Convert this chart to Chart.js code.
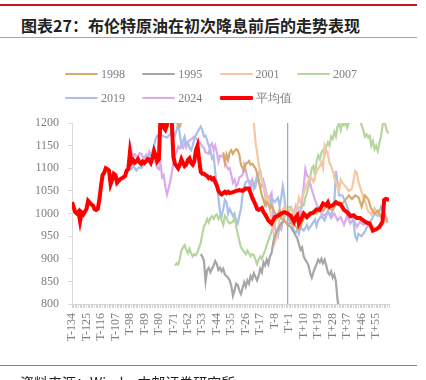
<!DOCTYPE html>
<html>
<head>
<meta charset="utf-8">
<script src="https://cdn.jsdelivr.net/npm/chart.js@4.4.1/dist/chart.umd.min.js"></script>
<style>
  body { margin: 0; width: 426px; height: 380px; overflow: hidden; background: #fff; position: relative; font-family: "Noto Sans CJK SC", sans-serif; }
  #topRule { position: absolute; left: 0; top: 4px; width: 417px; height: 2px; background: #c8161d; }
  #title { position: absolute; left: 21px; top: 13px; font-size: 16px; font-weight: bold; color: #222; white-space: nowrap; }
  #titleRule { position: absolute; left: 0; top: 37px; width: 417px; height: 1px; background: #e58a8a; }
  #legend { position: absolute; left: 65px; top: 62px; display: grid; grid-template-columns: repeat(4, 77.3px); grid-auto-rows: 24px; }
  .item { display: flex; align-items: center; font-family: "Liberation Serif", serif; font-size: 12px; color: #7f7f7f; }
  .swatch { width: 33px; margin-right: 3px; border-radius: 1px; }
  #chartBox { position: absolute; left: 0; top: 0; }
  #footRule { position: absolute; left: 0; top: 365px; width: 417px; height: 1px; background: #e06060; }
  #source { position: absolute; left: 20px; top: 372px; font-size: 14px; color: #222; white-space: nowrap; }
</style>
</head>
<body>
<div id="topRule"></div>
<div id="title">图表27：布伦特原油在初次降息前后的走势表现</div>
<div id="titleRule"></div>
<div id="chartBox"><canvas id="brentChart" width="426" height="380"></canvas></div>
<div id="legend"></div>
<div id="footRule"></div>
<div id="source">资料来源：Wind，中邮证券研究所</div>

<script>
// ===== DATA (x = trading day relative to first cut, y = index level) =====
const xMin = -134, xMax = 63, cutDay = 0;
const yMin = 800, yMax = 1200, yStep = 50;
const tickDays = [-134, -125, -116, -107, -98, -89, -80, -71, -62, -53, -44, -35, -26, -17, -8, 1, 10, 19, 28, 37, 46, 55];
const tickLabels = ['T-134', 'T-125', 'T-116', 'T-107', 'T-98', 'T-89', 'T-80', 'T-71', 'T-62', 'T-53', 'T-44', 'T-35', 'T-26', 'T-17', 'T-8', 'T+1', 'T+10', 'T+19', 'T+28', 'T+37', 'T+46', 'T+55'];

const seriesNames = ['1998', '1995', '2001', '2007', '2019', '2024', '平均值'];

const s1998 = [[-70,1215],[-68,1195],[-67,1192],[-66,1205],[-65,1220],[-64,null],
  [-40,1135],[-39,1112],[-38,1130],[-37,1118],[-36,1135],[-35,1140],[-34,1132],[-33,1138],[-32,1142],[-31,1140],
  [-30,1130],[-29,1108],[-28,1100],[-27,1095],[-26,1110],[-25,1112],[-24,1116],[-23,1108],[-22,1110],[-21,1105],
  [-20,1100],[-19,1090],[-18,1075],[-17,1055],[-16,1040],[-15,1030],[-14,1018],[-13,1025],[-12,1022],[-11,1012],
  [-10,1018],[-9,1010],[-8,1002],[-7,997],[-6,998],[-5,1008],[-4,990],[-2,985],[0,975],[2,980],[4,975],[6,968],
  [7,965],[8,970],[10,990],[12,998],[14,995],[16,1005],[18,1000],[20,1010],[22,1005],[24,1015],[26,1010],[28,1008],
  [30,1020],[32,1025],[34,1022],[36,1030],[38,1040],[40,1032],[42,1040],[44,1036],[46,1015],[48,1040],[50,1032],
  [52,1010],[54,1000],[56,1006],[58,993],[60,1000],[62,980]];

const s1995 = [[-54,910],[-53,905],[-52,895],[-51,850],[-50,875],[-49,880],[-48,870],[-47,878],[-46,885],[-45,895],
  [-44,888],[-43,875],[-42,880],[-41,872],[-40,878],[-39,865],[-38,862],[-37,858],[-36,852],[-35,840],[-34,818],
  [-33,830],[-32,845],[-31,842],[-30,830],[-29,822],[-28,835],[-27,848],[-26,838],[-25,852],[-24,845],[-23,862],
  [-22,855],[-21,868],[-20,860],[-19,852],[-18,862],[-17,878],[-16,870],[-15,892],[-14,885],[-13,898],[-12,888],
  [-11,905],[-10,912],[-9,935],[-8,950],[-7,958],[-6,965],[-4,978],[-2,985],[0,975],[2,970],[4,958],[6,945],
  [8,920],[9,925],[10,905],[11,898],[12,892],[13,885],[14,868],[15,858],[16,870],[17,880],[18,888],[19,898],
  [20,892],[21,900],[22,890],[23,898],[24,885],[25,870],[26,865],[27,872],[28,858],[29,865],[30,850],[31,810],[32,785]];

const s2001 = [[-22,1230],[-21,1200],[-20,1160],[-19,1135],[-18,1110],[-17,1085],[-16,1075],[-15,1060],[-14,1050],
  [-13,1030],[-12,1035],[-11,1010],[-10,990],[-9,965],[-8,935],[-7,945],[-6,965],[-5,985],[-4,1000],[-3,1010],
  [-2,1015],[-1,1005],[0,1002],[2,1010],[4,1000],[6,1015],[7,1035],[8,1025],[10,1045],[12,1065],[14,1082],
  [16,1070],[18,1093],[20,1105],[21,1113],[22,1100],[23,1150],[24,1140],[25,1132],[26,1112],[27,1105],[28,1095],
  [29,1080],[30,1070],[31,1058],[32,1050],[33,1075],[34,1068],[36,1060],[38,1050],[40,1055],[42,1094],[43,1090],
  [44,1070],[46,1048],[48,1028],[50,1005],[52,998],[54,1012],[56,1000],[58,992],[60,1002],[62,980]];

const s2007 = [[-70,885],[-69,890],[-68,887],[-67,900],[-66,918],[-65,925],[-64,930],[-63,920],[-62,912],[-61,922],
  [-60,912],[-59,905],[-58,910],[-57,908],[-56,915],[-55,925],[-54,935],[-53,955],[-52,972],[-51,978],[-50,988],
  [-49,980],[-48,990],[-47,994],[-46,988],[-45,995],[-44,998],[-43,988],[-42,995],[-41,985],[-40,975],[-39,995],
  [-38,990],[-37,982],[-36,978],[-34,982],[-33,992],[-32,972],[-31,955],[-30,940],[-29,925],[-28,920],[-27,915],
  [-26,910],[-25,918],[-24,912],[-23,905],[-22,910],[-21,908],[-20,898],[-19,888],[-18,898],[-17,905],[-16,900],
  [-15,910],[-14,918],[-13,930],[-12,940],[-11,950],[-10,960],[-9,972],[-8,980],[-6,990],[-4,998],[-2,992],
  [0,1012],[2,1015],[4,1000],[6,1012],[8,1014],[10,1018],[11,1035],[12,1045],[13,1060],[14,1080],[15,1100],
  [16,1105],[17,1085],[18,1115],[19,1128],[20,1120],[21,1135],[22,1140],[23,1130],[24,1148],[25,1157],[26,1150],
  [27,1170],[28,1165],[29,1180],[30,1170],[31,1192],[32,1200],[33,1185],[34,1200],[35,1195],[36,1205],[37,1190],
  [38,1200],[39,1215],[41,1230],[43,1220],[45,1205],[47,1185],[48,1170],[49,1175],[50,1168],[51,1172],[52,1150],
  [53,1160],[54,1142],[55,1150],[56,1138],[57,1155],[58,1170],[59,1195],[60,1205],[61,1192],[62,1180],[63,1178]];

const s2019 = [[-98,1100],[-97,1098],[-96,1105],[-95,1100],[-94,1095],[-93,1100],[-92,1103],[-91,1100],[-90,1105],
  [-89,1108],[-88,1120],[-86,1125],[-84,1135],[-83,1150],[-82,1165],[-81,1172],[-79,1175],[-77,1170],[-75,1168],
  [-73,1175],[-72,1185],[-70,1172],[-68,1198],[-67,1175],[-66,1150],[-65,1160],[-64,1170],[-63,1152],[-62,1158],
  [-61,1145],[-60,1140],[-59,1150],[-58,1165],[-56,1180],[-54,1192],[-53,1185],[-52,1170],[-51,1172],[-49,1150],
  [-48,1140],[-47,1122],[-46,1128],[-45,1092],[-44,1068],[-43,1035],[-42,1002],[-41,995],[-40,1010],[-39,1030],
  [-38,1025],[-37,1000],[-36,1010],[-34,995],[-33,1000],[-32,985],[-31,978],[-30,995],[-29,1010],[-28,1040],
  [-27,1060],[-26,1070],[-24,1072],[-22,1070],[-21,1055],[-20,1065],[-19,1085],[-17,1094],[-16,1072],[-15,1065],
  [-14,1040],[-13,1020],[-12,1030],[-11,1018],[-10,1035],[-8,1025],[-6,1035],[-5,1015],[-4,1035],[-3,1060],
  [-2,1035],[-1,1000],[1,990],[2,980],[3,975],[4,960],[5,958],[6,965],[7,955],[8,970],[10,962],[12,975],[13,965],
  [15,975],[17,987],[18,972],[19,985],[21,995],[23,985],[25,1005],[27,995],[29,1020],[30,1094],[31,1070],[32,1040],
  [34,1040],[36,1025],[38,1005],[40,995],[41,980],[42,950],[43,942],[44,955],[46,950],[48,960],[50,975],[52,985],
  [54,1000],[56,995],[58,1015],[60,1000],[62,985]];

const s2024 = [[-98,1160],[-97,1135],[-96,1128],[-95,1131],[-94,1126],[-93,1128],[-92,1134],[-91,1132],[-90,1125],
  [-89,1122],[-88,1130],[-87,1125],[-86,1136],[-85,1125],[-84,1136],[-83,1125],[-82,1110],[-81,1101],[-80,1098],
  [-79,1112],[-78,1080],[-77,1085],[-76,1060],[-75,1042],[-74,1055],[-73,1070],[-72,1090],[-71,1112],[-70,1128],
  [-69,1135],[-68,1148],[-67,1144],[-66,1150],[-65,1145],[-64,1155],[-63,1146],[-62,1158],[-60,1164],[-58,1170],
  [-56,1162],[-54,1155],[-53,1148],[-52,1145],[-51,1135],[-49,1132],[-48,1150],[-47,1155],[-46,1140],[-45,1150],
  [-44,1135],[-43,1115],[-42,1128],[-40,1125],[-38,1105],[-37,1098],[-36,1100],[-35,1085],[-34,1068],[-33,1075],
  [-32,1060],[-31,1065],[-30,1080],[-28,1085],[-27,1108],[-26,1095],[-25,1080],[-24,1068],[-23,1058],[-22,1075],
  [-21,1068],[-20,1060],[-19,1078],[-18,1068],[-16,1060],[-15,1072],[-14,1058],[-13,1042],[-12,1032],[-11,1038],
  [-10,1045],[-9,995],[-8,972],[-7,957],[-6,950],[-5,972],[-4,965],[-3,980],[-2,995],[0,998],[1,985],[2,995],
  [4,1002],[5,1015],[6,995],[7,1005],[8,995],[10,1060],[11,1098],[12,1085],[13,1080],[15,1053],[17,1030],[19,1012],
  [21,1000],[23,995],[25,1005],[27,990],[29,1000],[31,985],[33,992],[35,975],[37,995],[39,978],[41,988],[43,970],
  [45,982],[47,975],[49,980]];

const sAvg = [[-134,1025],[-132,1003],[-131,1000],[-130,1004],[-129,983],[-128,1002],[-127,998],[-126,1004],
  [-125,1010],[-124,1028],[-123,1024],[-122,1020],[-121,1018],[-120,1010],[-119,1008],[-118,1010],[-117,1030],
  [-116,1060],[-115,1085],[-114,1090],[-113,1100],[-112,1098],[-111,1095],[-110,1065],[-109,1075],[-108,1088],
  [-107,1085],[-106,1068],[-105,1072],[-104,1076],[-103,1078],[-102,1080],[-101,1083],[-100,1095],[-99,1098],
  [-98,1135],[-97,1113],[-96,1118],[-95,1112],[-94,1115],[-93,1120],[-92,1113],[-91,1110],[-90,1115],[-89,1112],
  [-88,1115],[-87,1120],[-86,1118],[-85,1112],[-84,1122],[-83,1138],[-82,1128],[-81,1115],[-80,1120],[-79,1215],
  [-78,1210],[-77,1190],[-76,1185],[-75,1195],[-74,1215],[-73,1210],[-72,1205],[-71,1125],[-70,1110],[-69,1105],
  [-68,1100],[-67,1108],[-66,1120],[-65,1112],[-64,1105],[-63,1108],[-62,1118],[-61,1122],[-60,1112],[-59,1108],
  [-58,1115],[-57,1140],[-56,1150],[-55,1120],[-54,1092],[-53,1088],[-52,1088],[-51,1085],[-50,1083],[-49,1078],
  [-48,1080],[-47,1076],[-46,1078],[-45,1070],[-44,1062],[-43,1050],[-42,1045],[-41,1042],[-40,1045],[-39,1048],
  [-38,1045],[-37,1048],[-36,1045],[-34,1047],[-32,1050],[-30,1052],[-28,1050],[-26,1055],[-24,1055],[-23,1045],
  [-22,1035],[-20,1020],[-19,1010],[-18,1008],[-16,1012],[-15,1003],[-14,998],[-13,992],[-12,985],[-10,978],
  [-9,985],[-8,992],[-6,995],[-4,1000],[-2,1003],[0,1000],[2,995],[3,988],[4,982],[5,992],[6,996],[7,978],[8,985],
  [10,1000],[12,992],[14,1000],[16,1002],[18,1009],[20,1008],[22,1022],[24,1018],[25,1024],[26,1015],[28,1018],
  [30,1025],[31,1022],[33,1020],[35,1008],[37,1003],[39,994],[41,996],[43,990],[45,990],[47,985],[49,980],[51,978],
  [53,962],[55,965],[57,970],[59,982],[60,1030],[61,1032],[63,1030]];

const seriesData = [s1998, s1995, s2001, s2007, s2019, s2024, sAvg];

// ===== STYLE =====
const seriesColors = ['#d9a86c', '#a6a6a6', '#f7c6a2', '#b5d69e', '#a9c0e8', '#dbaaea', '#ff0000'];
const seriesWidths = [2.2, 2.2, 2.2, 2.2, 2.2, 2.2, 4];
const axisFont = { family: '"Liberation Serif", serif', size: 12 };

const toPoints = arr => arr.map(([x, y]) => ({ x, y }));

// ===== HTML LEGEND =====
const legendEl = document.getElementById('legend');
seriesNames.forEach((name, i) => {
  const item = document.createElement('div');
  item.className = 'item';
  const sw = document.createElement('span');
  sw.className = 'swatch';
  sw.style.background = seriesColors[i];
  sw.style.height = seriesWidths[i] + 'px';
  item.appendChild(sw);
  item.appendChild(document.createTextNode(name));
  legendEl.appendChild(item);
});

// ===== CHART =====
const datasets = seriesData.map((arr, i) => ({
  label: seriesNames[i],
  data: toPoints(arr),
  borderColor: seriesColors[i],
  borderWidth: seriesWidths[i],
  pointRadius: 0,
  tension: 0,
  spanGaps: false,
  order: i === seriesData.length - 1 ? 0 : i + 2
}));

// rate-cut marker line
datasets.push({
  label: 'cut',
  data: [{ x: cutDay, y: yMin }, { x: cutDay, y: yMax }],
  borderColor: '#92abc9',
  borderWidth: 1.3,
  pointRadius: 0,
  order: 1
});

new Chart(document.getElementById('brentChart'), {
  type: 'line',
  data: { datasets },
  options: {
    responsive: false,
    animation: false,
    events: [],
    layout: { padding: { top: 123, right: 37, bottom: 16, left: 0 } },
    plugins: { legend: { display: false }, tooltip: { enabled: false } },
    scales: {
      x: {
        type: 'linear',
        min: xMin,
        max: xMax,
        afterFit: s => { s.height = 60; },
        afterBuildTicks: s => {
          const all = [];
          for (let d = xMin; d <= xMax; d++) all.push({ value: d });
          s.ticks = all;
        },
        ticks: {
          autoSkip: false,
          minRotation: 90,
          maxRotation: 90,
          padding: 5,
          color: '#7f7f7f',
          font: axisFont,
          callback: v => {
            const k = tickDays.indexOf(v);
            return k >= 0 ? tickLabels[k] : '';
          }
        },
        grid: { drawOnChartArea: false, tickLength: 4, color: '#d4d4d4' },
        border: { color: '#d4d4d4' }
      },
      y: {
        min: yMin,
        max: yMax,
        afterFit: s => { s.width = 72; },
        ticks: { stepSize: yStep, padding: 9, color: '#7f7f7f', font: axisFont, callback: v => String(v) },
        grid: { drawOnChartArea: false, tickLength: 4, color: '#d9d9d9' },
        border: { color: '#d9d9d9' }
      }
    }
  }
});
</script>
</body>
</html>
